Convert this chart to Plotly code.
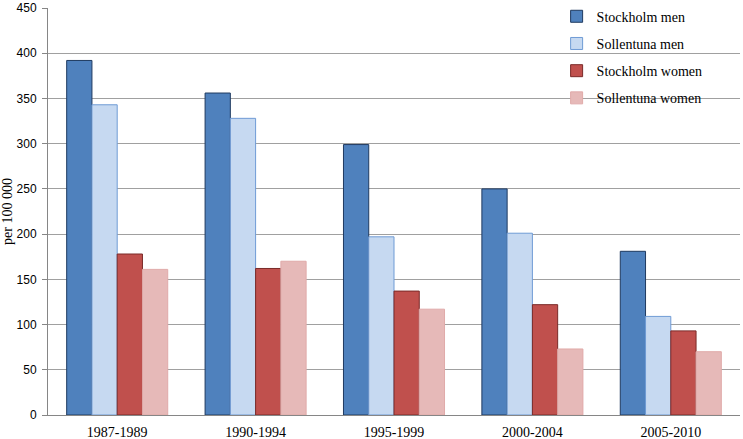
import plotly.graph_objects as go

categories = ["1987-1989", "1990-1994", "1995-1999", "2000-2004", "2005-2010"]
stockholm_men = [392, 356, 299, 250, 181]
sollentuna_men = [343, 328, 197, 201, 109]
stockholm_women = [178, 162, 137, 122, 93]
sollentuna_women = [161, 170, 117, 73, 70]

series = [
    ("Stockholm men", stockholm_men, "#4F81BD", "#1F3A60"),
    ("Sollentuna men", sollentuna_men, "#C6D9F1", "#6F9BD5"),
    ("Stockholm women", stockholm_women, "#C0504D", "#7A2A28"),
    ("Sollentuna women", sollentuna_women, "#E6B9B8", "#E0AAA9"),
]

fig = go.Figure()
for name, vals, fill, line in series:
    fig.add_trace(go.Bar(
        x=categories, y=vals, name=name, legendgroup=name,
        marker=dict(color=fill, line=dict(color=line, width=1)),
    ))

fig.update_layout(
    width=743, height=439,
    margin=dict(l=48, r=3, t=8, b=24, autoexpand=False),
    paper_bgcolor="white", plot_bgcolor="white",
    barmode="group", bargap=0.27, bargroupgap=0,
    showlegend=True,
    legend=dict(
        x=0.735, y=1.018, xanchor="left", yanchor="top",
        bgcolor="rgba(0,0,0,0)",
        font=dict(family="Liberation Serif", size=14, color="#000"),
        tracegroupgap=6, itemwidth=30,
    ),
    xaxis=dict(
        showline=True, linecolor="#868686", linewidth=1,
        ticks="", tickfont=dict(family="Liberation Serif", size=14, color="#000"),
        showgrid=False, ticklabelstandoff=4, automargin=False,
    ),
    yaxis=dict(
        range=[0, 450], dtick=50,
        showline=True, linecolor="#868686", linewidth=1,
        ticks="outside", ticklen=5, tickcolor="#868686",
        gridcolor="#A0A0A0", gridwidth=1,
        tickfont=dict(family="Liberation Sans", size=12, color="#000"),
        ticklabelstandoff=3, automargin=False, ticklabeloverflow="allow",
        title=dict(text="per 100 000", font=dict(family="Liberation Serif", size=14, color="#000"), standoff=3),
        zeroline=False,
    ),
)

fig.write_html("out.html", config={"displayModeBar": False},
               post_script="document.body.style.margin='0';")
